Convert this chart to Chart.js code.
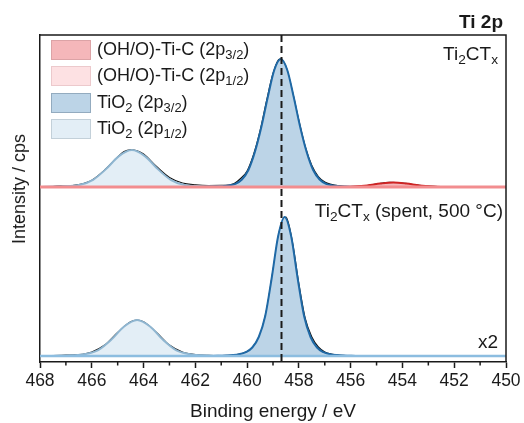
<!DOCTYPE html>
<html><head><meta charset="utf-8">
<script src="https://cdn.jsdelivr.net/npm/chart.js@4/dist/chart.umd.min.js"></script>
<style>
html,body{margin:0;padding:0;background:#fff;}
#wrap{position:relative;width:524px;height:423px;font-family:"Liberation Sans",Arial,sans-serif;color:#1a1a1a;overflow:hidden;}
canvas{position:absolute;left:0;top:0;}
.t{position:absolute;white-space:nowrap;line-height:1;}
.t sub{font-size:72%;vertical-align:baseline;position:relative;top:0.32em;line-height:0;}
.sw{position:absolute;left:51px;width:40px;height:20px;box-sizing:border-box;border:1px solid;}
.lg{position:absolute;left:97px;white-space:nowrap;font-size:18px;line-height:1;}
.lg sub{font-size:72%;vertical-align:baseline;position:relative;top:0.32em;line-height:0;}
</style></head><body>
<div id="wrap">
<canvas id="c" width="524" height="423"></canvas>

<div class="sw" style="top:40px;background:#f5b7ba;border-color:#dca3a6;"></div>
<div class="sw" style="top:66px;background:#fde1e3;border-color:#ecc9cc;"></div>
<div class="sw" style="top:93px;background:#bcd4e7;border-color:#93abbf;"></div>
<div class="sw" style="top:119px;background:#e3eef6;border-color:#c3d0d9;"></div>
<div class="lg" style="top:40px;">(OH/O)-Ti-C (2p<sub>3/2</sub>)</div>
<div class="lg" style="top:66px;">(OH/O)-Ti-C (2p<sub>1/2</sub>)</div>
<div class="lg" style="top:93px;">TiO<sub>2</sub> (2p<sub>3/2</sub>)</div>
<div class="lg" style="top:119px;">TiO<sub>2</sub> (2p<sub>1/2</sub>)</div>

<div class="t" style="right:21px;top:12px;font-weight:bold;font-size:19px;">Ti 2p</div>
<div class="t" style="right:26px;top:44px;font-size:19px;">Ti<sub>2</sub>CT<sub>x</sub></div>
<div class="t" style="right:21px;top:201px;font-size:19px;">Ti<sub>2</sub>CT<sub>x</sub> (spent, 500 °C)</div>
<div class="t" style="right:26px;top:332px;font-size:19px;">x2</div>
<div class="t" style="left:19px;top:189px;font-size:18px;transform:translate(-50%,-50%) rotate(-90deg);">Intensity / cps</div>
</div>
<script>
// ---- axis / ticks ----
const energyMin = 450, energyMax = 468;
const xTickValues = [450, 452, 454, 456, 458, 460, 462, 464, 466, 468];
const minorTickValues = [451, 453, 455, 457, 459, 461, 463, 465, 467];
const dashedLineEnergy = 458.7;
const xAxisTitle = 'Binding energy / eV';

// ---- upper panel: Ti2CTx ----
const upperEnvX = [468,467.5,467.2,467,466.5,466,465.5,465,464.75,464.5,464.25,464,463.5,463,462.5,462,461.5,461,460.5,460.25,460,459.75,459.5,459.25,459,458.75,458.5,458.25,458,457.75,457.5,457.25,457,456.75,456.5,456,455.5,455,454.5,454,453.5,453,452.5,452,451,450];
const upperEnvY = [0.3,0.5,1.2,0.8,2.3,6.8,17,30,35.5,37.2,36.2,33,20.5,9.5,4,2.2,1.5,1.6,3.5,8.5,16,32.5,56,86,113.5,128,120.5,95.5,66.5,40,21.5,10.5,5,2.6,1.3,0.4,1.2,3,4.6,4,2.2,0.8,0.2,0.1,0,0];

const upperTiO2_32X = [455.7,455.95,456.2,456.45,456.7,456.95,457.2,457.45,457.7,457.95,458.2,458.45,458.7,458.95,459.2,459.45,459.7,459.95,460.2,460.45,460.7,460.95,461.2,461.45,461.7];
const upperTiO2_32Y = [0,0.2,0.4,0.8,1.5,3.2,7.5,17,35,60,90,117,128,117,90,60,35,17,7.5,3.2,1.5,0.8,0.4,0.2,0];

const upperTiO2_12X = [460.95,461.45,461.95,462.45,462.95,463.45,463.95,464.45,464.95,465.45,465.95,466.45,466.95,467.45,467.95];
const upperTiO2_12Y = [0,0.4,0.9,2.2,7.2,17.9,30.9,37,30.9,17.9,7.2,2.2,0.9,0.4,0];

const upperOTC_32X = [452.35,452.85,453.35,453.85,454.35,454.85,455.35,455.85,456.35];
const upperOTC_32Y = [0,0.4,1.5,3.4,4.5,3.4,1.5,0.4,0];

const upperOTC_12X = [458.3,458.8,459.3,459.8,460.3,460.8,461.3,461.8,462.3];
const upperOTC_12Y = [0,0.2,0.7,1.5,2,1.5,0.7,0.2,0];

// ---- lower panel: Ti2CTx (spent, 500 °C), shown x2 ----
const lowerEnvX = [468,467.5,467,466.5,466,465.5,465,464.5,464.25,464,463.5,463,462.5,462,461.5,461,460.5,460,459.75,459.5,459.25,459,458.75,458.5,458.25,458,457.75,457.5,457.25,457,456.75,456.5,456,455,450];
const lowerEnvY = [0.2,0.4,0.8,1.3,4,11,23.5,34.2,36,34.2,23.5,11,4,1.5,0.7,0.5,0.8,4.5,10,21.5,46,85.5,125,139,114,72,37,19,9,4,1.9,0.9,0.3,0.1,0];

const lowerTiO2_32X = [455.55,455.8,456.05,456.3,456.55,456.8,457.05,457.3,457.55,457.8,458.05,458.3,458.55,458.8,459.05,459.3,459.55,459.8,460.05,460.3,460.55,460.8,461.05,461.3,461.55];
const lowerTiO2_32Y = [0,0.1,0.3,0.5,0.9,1.8,3.8,8.5,19,40,78,120,139,120,78,40,19,8.5,3.8,1.8,0.9,0.5,0.3,0.1,0];

const lowerTiO2_12X = [460.75,461.25,461.75,462.25,462.75,463.25,463.75,464.25,464.75,465.25,465.75,466.25,466.75,467.25,467.75];
const lowerTiO2_12Y = [0,0.25,0.7,2,5.9,16.2,29.5,36,29.5,16.2,5.9,2,0.7,0.25,0];

const baselineX = [450, 468];
const baselineY = [0, 0];

// ---- layout (vertical stacking offsets, not data) ----
const upperOffset = 175, lowerOffset = 6, yMax = 327;

function pts(xs, ys, off) { return xs.map((x, i) => ({ x: x, y: ys[i] + off })); }
function curve(label, xs, ys, off, border, bw, fillColor, order) {
  return {
    label: label, data: pts(xs, ys, off), borderColor: border, borderWidth: bw,
    backgroundColor: fillColor || 'transparent',
    fill: fillColor ? { value: off } : false,
    cubicInterpolationMode: 'monotone', pointRadius: 0, order: order
  };
}

const datasets = [
  curve('env upper', upperEnvX, upperEnvY, upperOffset, '#111', 1.2, null, 20),
  curve('env lower', lowerEnvX, lowerEnvY, lowerOffset, '#111', 1.2, null, 20),
  curve('TiO2 2p1/2 lower', lowerTiO2_12X, lowerTiO2_12Y, lowerOffset, '#8fb6d1', 2, '#e3eef6', 15),
  curve('TiO2 2p3/2 lower', lowerTiO2_32X, lowerTiO2_32Y, lowerOffset, '#1f69a6', 2, '#bcd4e7', 14),
  curve('OTC 2p1/2 upper', upperOTC_12X, upperOTC_12Y, upperOffset, '#f2b9bd', 1.5, '#fde1e3', 13),
  curve('TiO2 2p1/2 upper', upperTiO2_12X, upperTiO2_12Y, upperOffset, '#8fb6d1', 2, '#e3eef6', 12),
  curve('TiO2 2p3/2 upper', upperTiO2_32X, upperTiO2_32Y, upperOffset, '#1f69a6', 2, '#bcd4e7', 11),
  curve('OTC 2p3/2 upper', upperOTC_32X, upperOTC_32Y, upperOffset, '#cf2323', 2, '#f5b7ba', 10),
  curve('baseline upper', baselineX, baselineY, upperOffset, '#f28d8f', 3, null, 5),
  curve('baseline lower', baselineX, baselineY, lowerOffset, '#8cbde0', 2.5, null, 5)
];

const deco = {
  id: 'deco',
  afterDatasetsDraw(chart) {
    const { ctx, chartArea: a, scales: { x } } = chart;
    ctx.save();
    ctx.strokeStyle = '#1a1a1a';
    const px = Math.round(x.getPixelForValue(dashedLineEnergy)) + 0.5;
    ctx.setLineDash([7, 4]); ctx.lineWidth = 2;
    ctx.beginPath(); ctx.moveTo(px, a.top); ctx.lineTo(px, a.bottom); ctx.stroke();
    ctx.setLineDash([]);
    ctx.lineWidth = 1.5;
    ctx.beginPath(); ctx.moveTo(a.left, a.top); ctx.lineTo(a.right, a.top); ctx.lineTo(a.right, a.bottom); ctx.stroke();
    minorTickValues.forEach(v => {
      const p = x.getPixelForValue(v);
      ctx.beginPath(); ctx.moveTo(p, a.bottom); ctx.lineTo(p, a.bottom + 3.5); ctx.stroke();
    });
    ctx.restore();
  }
};

new Chart(document.getElementById('c'), {
  type: 'line',
  data: { datasets: datasets },
  plugins: [deco],
  options: {
    responsive: false, animation: false, devicePixelRatio: 1,
    layout: { padding: { top: 35, right: 18, left: 0, bottom: 0 } },
    plugins: { legend: { display: false }, tooltip: { enabled: false } },
    elements: { point: { radius: 0 } },
    scales: {
      x: {
        type: 'linear', reverse: true, min: energyMin, max: energyMax,
        afterBuildTicks: s => { s.ticks = xTickValues.map(v => ({ value: v })); },
        afterFit: s => { s.height = 61; },
        ticks: { font: { family: 'Liberation Sans', size: 17.5 }, color: '#1a1a1a', padding: 3, maxRotation: 0, autoSkip: false, callback: v => String(v) },
        grid: { drawOnChartArea: false, drawTicks: true, tickLength: 6, tickWidth: 1.5, tickColor: '#1a1a1a' },
        border: { color: '#1a1a1a', width: 1.5 },
        title: { display: true, text: xAxisTitle, font: { family: 'Liberation Sans', size: 19 }, color: '#1a1a1a', padding: { top: 0, bottom: 0 } }
      },
      y: {
        type: 'linear', min: 0, max: yMax,
        afterFit: s => { s.width = 40; },
        ticks: { display: false },
        grid: { drawOnChartArea: false, drawTicks: false },
        border: { color: '#1a1a1a', width: 1.5 }
      }
    }
  }
});
</script>
</body></html>
